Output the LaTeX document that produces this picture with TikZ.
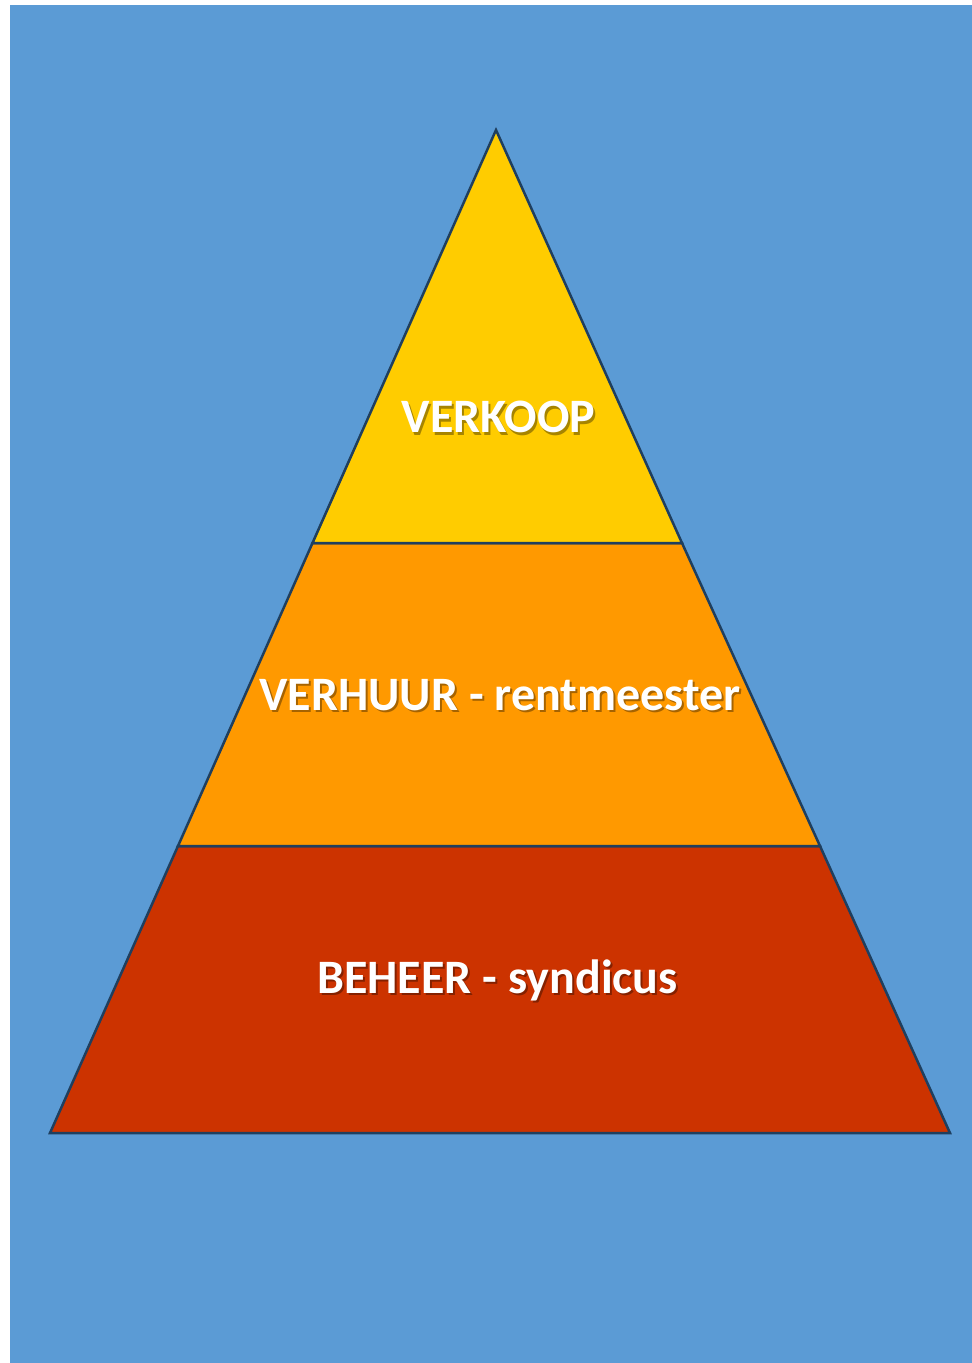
\documentclass[tikz,border=0pt]{standalone}
\usepackage{fontspec}
\setmainfont{Carlito}
\definecolor{bgblue}{HTML}{5B9BD5}
\definecolor{lvlyellow}{HTML}{FFCC00}
\definecolor{lvlorange}{HTML}{FF9900}
\definecolor{lvlred}{HTML}{CC3300}
\definecolor{edgeblue}{HTML}{1F3F5F}
\begin{document}
\begin{tikzpicture}[x=1pt,y=-1pt,
  level/.style={draw=edgeblue,line width=2.5pt,line join=miter},
  lbl/.style={text=white,font=\bfseries\fontsize{48}{52}\selectfont,inner sep=0pt},
  shd/.style={text=black,opacity=0.35,font=\bfseries\fontsize{48}{52}\selectfont,inner sep=0pt}]
\useasboundingbox (0,0) rectangle (972,1363);
\fill[white] (0,0) rectangle (972,1363);
\fill[bgblue] (10,5) rectangle (972,1363);
% corners
\coordinate (apex) at (496,130);
\coordinate (bl) at (50,1133);
\coordinate (br) at (950,1133);
\coordinate (ml1) at (312.5,543);
\coordinate (mr1) at (682,543);
\coordinate (ml2) at (178,846);
\coordinate (mr2) at (820,846);
% levels
\filldraw[level,fill=lvlred] (ml2) -- (mr2) -- (br) -- (bl) -- cycle;
\filldraw[level,fill=lvlorange] (ml1) -- (mr1) -- (mr2) -- (ml2) -- cycle;
\filldraw[level,fill=lvlyellow] (apex) -- (mr1) -- (ml1) -- cycle;
% labels
\node[shd] (s1) at (500.5,419.5) {VERKOOP};
\node[lbl] (t1) at (498.5,417) {VERKOOP};
\node[shd] (s2) at (502,697.5) {VERHUUR - rentmeester};
\node[lbl] (t2) at (500,695) {VERHUUR - rentmeester};
\node[shd] (s3) at (499.5,982.5) {BEHEER - syndicus};
\node[lbl] (t3) at (497.5,980) {BEHEER - syndicus};
\end{tikzpicture}
\end{document}
